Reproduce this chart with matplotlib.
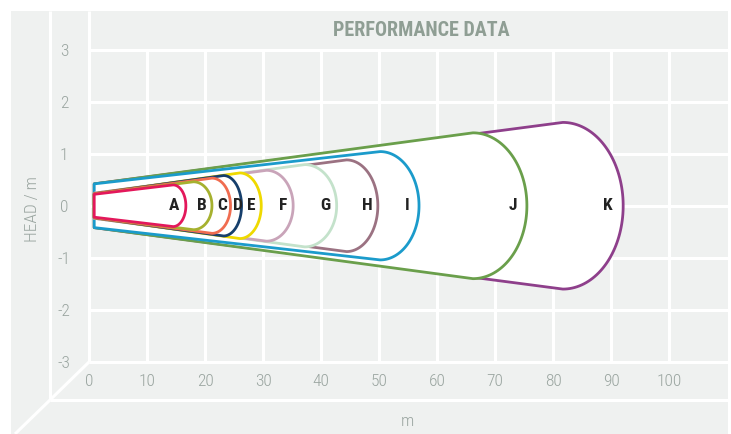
import matplotlib

matplotlib.use("Agg")
import matplotlib.pyplot as plt
import numpy as np
from matplotlib.patches import Polygon

# nozzle profiles (metres): start of jet, end of straight edge, tip of cap
NAMES = ["A", "B", "C", "D", "E", "F", "G", "H", "I", "J", "K"]
COLORS = ["#e3185b", "#a6b12f", "#f06c50", "#163f6c", "#efd900", "#c9a4b9",
          "#c4e2cb", "#9b7282", "#1b9bcb", "#6a9f4b", "#8e3f8b"]
START_X = 0.9
START_HALF = [0.22, 0.22, 0.23, 0.23, 0.23, 0.24, 0.24, 0.24, 0.42, 0.42, 0.42]
EDGE_END_X = [14.5, 18.0, 21.2, 23.2, 26.0, 30.6, 37.2, 44.4, 50.2, 66.2, 81.7]
EDGE_HALF = [0.40, 0.46, 0.53, 0.58, 0.63, 0.68, 0.79, 0.88, 1.04, 1.40, 1.60]
TIP_X = [16.7, 21.2, 24.4, 26.3, 29.7, 35.2, 42.7, 49.8, 56.9, 75.5, 92.1]
LABEL_X = [14.7, 19.4, 23.0, 25.6, 27.9, 33.5, 40.7, 47.9, 54.8, 73.1, 89.5]

X_TICKS = list(range(0, 101, 10))
Y_TICKS = [-3, -2, -1, 0, 1, 2, 3]

W, H = 731, 434
GREY = "#eff1f0"
TEXT_GREY = "#9aa5a0"
FONT = ["Roboto Condensed", "Roboto", "DejaVu Sans"]

plt.rcParams["axes.unicode_minus"] = False


def profile(x0, h0, xe, he, tip):
    theta = np.linspace(np.pi / 2, -np.pi / 2, 80)
    arc_x = xe + (tip - xe) * np.cos(theta)
    arc_y = he * np.sin(theta)
    xs = np.concatenate([[x0], arc_x, [x0]])
    ys = np.concatenate([[h0], arc_y, [-h0]])
    return np.column_stack([xs, ys])


fig = plt.figure(figsize=(W / 100, H / 100), dpi=100)
fig.patch.set_facecolor("white")

# pseudo 3D frame in pixel space
bg = fig.add_axes([0, 0, 1, 1], zorder=0)
bg.set_xlim(0, W)
bg.set_ylim(H, 0)
bg.axis("off")
bg.add_patch(plt.Rectangle((11, 11), 717, H - 11, color=GREY, lw=0))
frame = dict(color="white", lw=2.2, solid_capstyle="butt")
bg.plot([50, 50], [11, 400], **frame)
bg.plot([89, 89], [11, 362], **frame)
bg.plot([89, 728], [362, 362], **frame)
bg.plot([50, 728], [400, 400], **frame)
bg.plot([89, 50], [362, 400], **frame)
bg.plot([50, 15], [400, 434], **frame)
bg.plot([89, 728], [49.5, 49.5], **frame)

ax = fig.add_axes([89 / W, (H - 362) / H, (728 - 89) / W, (362 - 49.5) / H], zorder=1)
ax.set_facecolor(GREY)
ax.set_xlim(0, (728 - 89) / 5.8)
ax.set_ylim(-3, 3)
for spine in ax.spines.values():
    spine.set_visible(False)
ax.set_axisbelow(True)
ax.grid(True, color="white", linewidth=2.2)
ax.set_xticks(X_TICKS)
ax.set_yticks(Y_TICKS)
ax.tick_params(length=0, labelcolor=TEXT_GREY, labelsize=12.5)
ax.tick_params(axis="x", pad=9)
ax.tick_params(axis="y", pad=18)
for lab in ax.get_xticklabels() + ax.get_yticklabels():
    lab.set_family(FONT)
    lab.set_fontweight("light")
for lab in ax.get_yticklabels():
    lab.set_horizontalalignment("center")

order = range(len(NAMES) - 1, -1, -1)
for z, i in enumerate(order):
    pts = profile(START_X, START_HALF[i], EDGE_END_X[i], EDGE_HALF[i], TIP_X[i])
    ax.add_patch(Polygon(pts, closed=True, facecolor="white", edgecolor=COLORS[i],
                         linewidth=2.0, joinstyle="round", zorder=2 + z))
for i, name in enumerate(NAMES):
    ax.text(LABEL_X[i], 0, name, ha="center", va="center", fontsize=12.5,
            fontweight="bold", color="#222222", family=FONT, zorder=30)

fig.text(421 / W, 1 - 30 / H, "PERFORMANCE DATA", ha="center", va="center",
         fontsize=14.5, fontweight="bold", color="#8f9e94", family=FONT)
fig.text(407 / W, 1 - 422 / H, "m", ha="center", va="center", fontsize=12.5,
         color=TEXT_GREY, family=FONT, fontweight="light")
fig.text(32 / W, 1 - 209 / H, "HEAD / m", ha="center", va="center", rotation=90,
         fontsize=12.5, color=TEXT_GREY, family=FONT, fontweight="light")

fig.savefig("out.png", dpi=100)
